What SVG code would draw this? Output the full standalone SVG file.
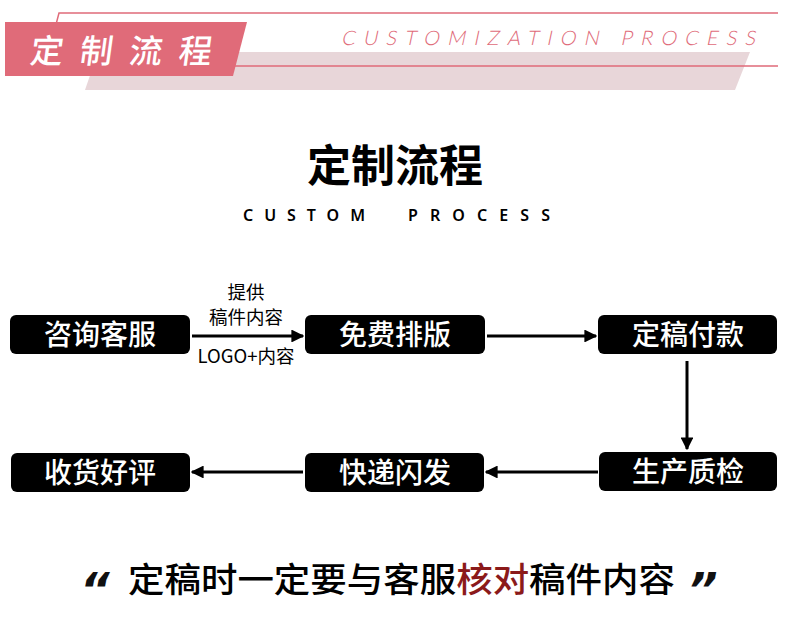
<svg xmlns="http://www.w3.org/2000/svg" width="790" height="637" viewBox="0 0 790 637">
<style>
.cjk{font-family:"Noto Sans CJK SC","Noto Sans",sans-serif}
.box{fill:#000}
.nt{fill:#fff;font-size:28px;text-anchor:middle;font-weight:500}
.lbl{fill:#000;font-size:18.5px;text-anchor:middle}
.conn{stroke:#000;stroke-width:3;fill:none;marker-end:url(#ah)}
.q{font-family:"DejaVu Sans",sans-serif;font-size:46px;font-weight:700;font-style:italic;fill:#111}
</style>
<defs>
<marker id="ah" viewBox="0 0 10 10" refX="9" refY="5" markerWidth="4.3" markerHeight="4.3" orient="auto" markerUnits="strokeWidth">
<path d="M0,0 L10,5 L0,10 Z" fill="#000"/>
</marker>
</defs>
<rect width="790" height="637" fill="#fff"/>
<g id="header">
<polygon points="98,52 750,52 735,90 85,90" fill="#e8d6d9"/>
<polyline points="778,13 59,13 45,66 778,66" fill="none" stroke="#e06b79" stroke-width="1.5"/>
<polygon points="5,22 247,22 233,76 5,76" fill="#e06b79"/>
<text class="cjk" transform="translate(29,63) skewX(-8)" font-size="33" fill="#fff" letter-spacing="16.5" font-weight="500">定制流程</text>
<text transform="translate(341,45) skewX(-12)" font-family="Lato,'Open Sans',sans-serif" font-weight="300" font-size="20" fill="#e06b79" textLength="414" lengthAdjust="spacing">CUSTOMIZATION PROCESS</text>
</g>
<g id="title">
<text class="cjk" x="395" y="182" font-size="44" font-weight="700" text-anchor="middle">定制流程</text>
<text x="243" y="221" font-family="'Noto Sans',sans-serif" font-size="16" font-weight="600" textLength="122" lengthAdjust="spacing">CUSTOM</text>
<text x="408" y="221" font-family="'Noto Sans',sans-serif" font-size="16" font-weight="600" textLength="142" lengthAdjust="spacing">PROCESS</text>
</g>
<g id="connectors">
<line class="conn" x1="192" y1="336" x2="303" y2="336"/>
<line class="conn" x1="487" y1="336" x2="596" y2="336"/>
<line class="conn" x1="687" y1="361" x2="687" y2="449"/>
<line class="conn" x1="598" y1="472" x2="486" y2="472"/>
<line class="conn" x1="303" y1="472" x2="192" y2="472"/>
<text class="cjk lbl" x="246" y="299">提供</text>
<text class="cjk lbl" x="246" y="324">稿件内容</text>
<text class="cjk lbl" x="246" y="363">LOGO+内容</text>
</g>
<g id="n1"><rect class="box" x="10" y="315" width="180" height="39" rx="6"/><text class="cjk nt" x="100" y="345">咨询客服</text></g>
<g id="n2"><rect class="box" x="305" y="315" width="180" height="39" rx="6"/><text class="cjk nt" x="395" y="345">免费排版</text></g>
<g id="n3"><rect class="box" x="598" y="315" width="179" height="39" rx="6"/><text class="cjk nt" x="688" y="345">定稿付款</text></g>
<g id="n4"><rect class="box" x="599" y="452" width="178" height="39" rx="6"/><text class="cjk nt" x="688" y="482">生产质检</text></g>
<g id="n5"><rect class="box" x="305" y="453" width="179" height="39" rx="6"/><text class="cjk nt" x="395" y="483">快递闪发</text></g>
<g id="n6"><rect class="box" x="11" y="453" width="179" height="39" rx="6"/><text class="cjk nt" x="100" y="483">收货好评</text></g>
<g id="note">
<text class="q" x="80" y="606">“</text>
<text class="cjk" x="128" y="592" font-size="34" font-weight="500" textLength="547" lengthAdjust="spacingAndGlyphs">定稿时一定要与客服<tspan fill="#8b1a1a">核对</tspan>稿件内容</text>
<text class="q" x="688" y="606">”</text>
</g>
</svg>
